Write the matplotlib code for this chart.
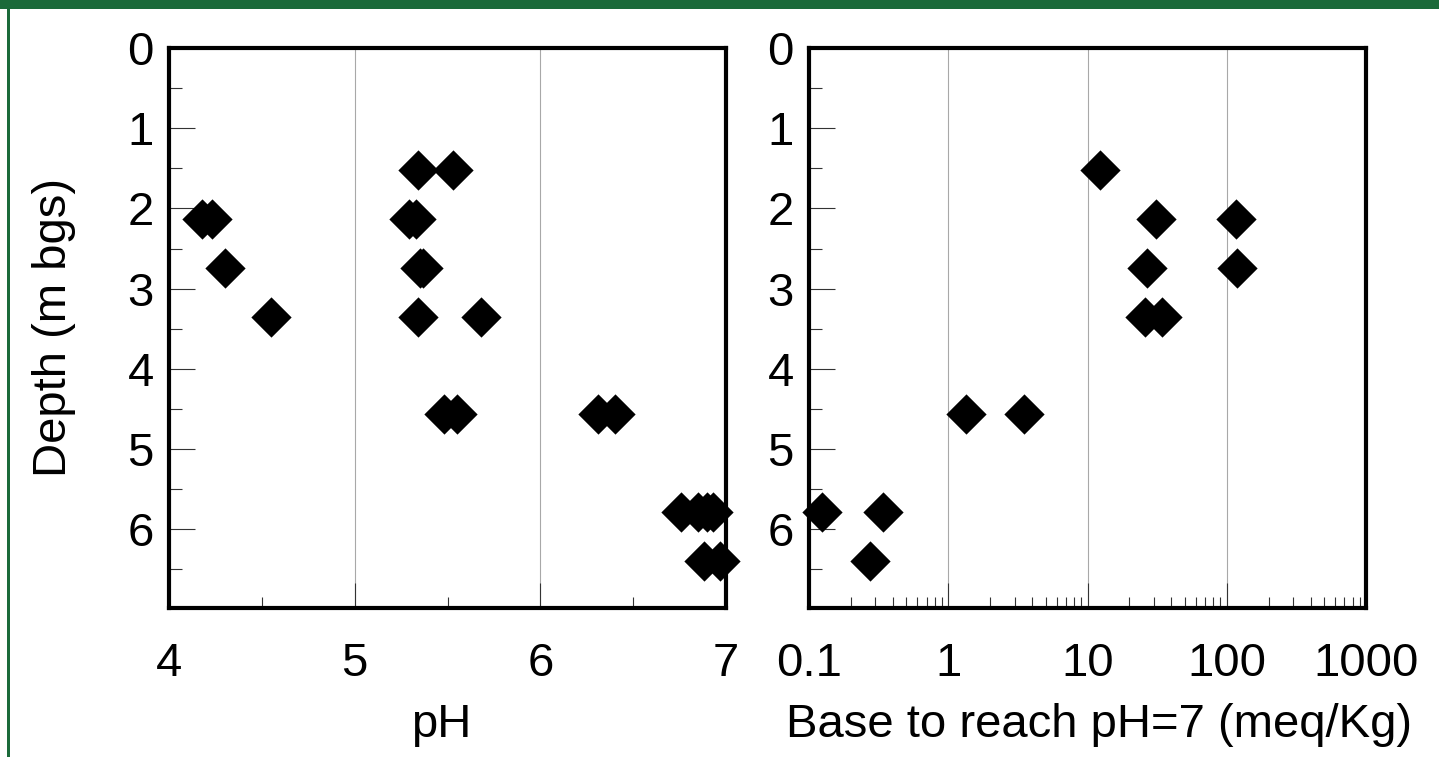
"""pH / base demand depth profiles — matplotlib PNG output"""

import matplotlib
matplotlib.use("Agg")
import matplotlib.pyplot as plt
from matplotlib.patches import Rectangle
from matplotlib.ticker import MultipleLocator, FixedLocator, LogLocator, NullFormatter, FixedFormatter

plt.rcParams['font.family'] = ['Liberation Sans', 'DejaVu Sans']

# pH profile
ph_depth = [1.52, 1.52,
            2.13, 2.13, 2.13, 2.13,
            2.74, 2.74, 2.74,
            3.35, 3.35, 3.35,
            4.57, 4.57, 4.57, 4.57,
            5.79, 5.79, 5.79, 5.79,
            6.40, 6.40]
ph_value = [5.34, 5.53,
            4.18, 4.23, 5.29, 5.33,
            4.30, 5.35, 5.37,
            4.55, 5.34, 5.68,
            5.48, 5.55, 6.31, 6.40,
            6.76, 6.85, 6.90, 6.93,
            6.88, 6.97]

# base needed to reach pH 7
base_depth = [1.52,
              2.13, 2.13,
              2.74, 2.74,
              3.35, 3.35,
              4.57, 4.57,
              5.79, 5.79,
              6.40]
base_value = [12.3,
              31.0, 116.0,
              26.7, 118.0,
              25.8, 34.4,
              1.34, 3.52,
              0.124, 0.338,
              0.276]

depth_ticks = [0, 1, 2, 3, 4, 5, 6]
ph_ticks = [4, 5, 6, 7]
base_ticks = [0.1, 1, 10, 100, 1000]
base_labels = ["0.1", "1", "10", "100", "1000"]

FS = 34
DIAMOND = [(0, 1), (1, 0), (0, -1), (-1, 0), (0, 1)]

fig = plt.figure(figsize=(14.39, 7.57), dpi=100)

# green frame of the slide
fig.patches.append(Rectangle((0, 1 - 9 / 757), 1, 9 / 757, transform=fig.transFigure,
                             facecolor="#1b6a3a", edgecolor="none"))
fig.patches.append(Rectangle((7 / 1439, 0), 2.5 / 1439, 1 - 9 / 757, transform=fig.transFigure,
                             facecolor="#1b6a3a", edgecolor="none"))

ax1 = fig.add_axes([169 / 1439, 0.1972, 557 / 1439, 0.7393])
ax2 = fig.add_axes([809 / 1439, 0.1972, 557 / 1439, 0.7393])


def style_axis(ax):
    ax.set_ylim(6.98, 0)
    ax.yaxis.set_major_locator(FixedLocator(depth_ticks))
    ax.yaxis.set_minor_locator(MultipleLocator(0.5))
    for s in ax.spines.values():
        s.set_linewidth(3)
    ax.tick_params(axis="y", which="major", direction="in", length=19, width=0.8,
                   color="#333333", labelsize=FS, pad=11)
    ax.tick_params(axis="y", which="minor", direction="in", length=9.5, width=0.8,
                   color="#333333")
    ax.tick_params(axis="x", which="major", direction="in", length=18, width=0.8,
                   color="#333333", labelsize=FS, pad=25)
    ax.tick_params(axis="x", which="minor", direction="in", length=8, width=0.8,
                   color="#333333")
    ax.grid(axis="x", which="major", color="#a8a8a8", lw=0.8)
    ax.set_axisbelow(True)


# left: pH
ax1.plot(ph_value, ph_depth, linestyle="none", marker=DIAMOND, ms=29,
         mfc="black", mec="black", mew=0, clip_on=False, zorder=5)
ax1.set_xlim(4, 7)
ax1.xaxis.set_major_locator(FixedLocator(ph_ticks))
ax1.xaxis.set_minor_locator(MultipleLocator(0.5))
style_axis(ax1)
ax1.set_xlabel("pH", fontsize=FS, labelpad=12)
ax1.xaxis.label.set_x(0.488)
ax1.set_ylabel("Depth (m bgs)", fontsize=FS, labelpad=37)

# right: base demand, log scale
ax2.plot(base_value, base_depth, linestyle="none", marker=DIAMOND, ms=29,
         mfc="black", mec="black", mew=0, clip_on=False, zorder=5)
ax2.set_xscale("log")
ax2.set_xlim(0.1, 1000)
ax2.xaxis.set_major_locator(FixedLocator(base_ticks))
ax2.xaxis.set_major_formatter(FixedFormatter(base_labels))
ax2.xaxis.set_minor_locator(LogLocator(base=10, subs=range(2, 10), numticks=20))
ax2.xaxis.set_minor_formatter(NullFormatter())
style_axis(ax2)
ax2.set_xlabel("Base to reach pH=7 (meq/Kg)", fontsize=FS, labelpad=12)
ax2.xaxis.label.set_x(0.52)

fig.savefig("out.png", dpi=100)
plt.close(fig)
